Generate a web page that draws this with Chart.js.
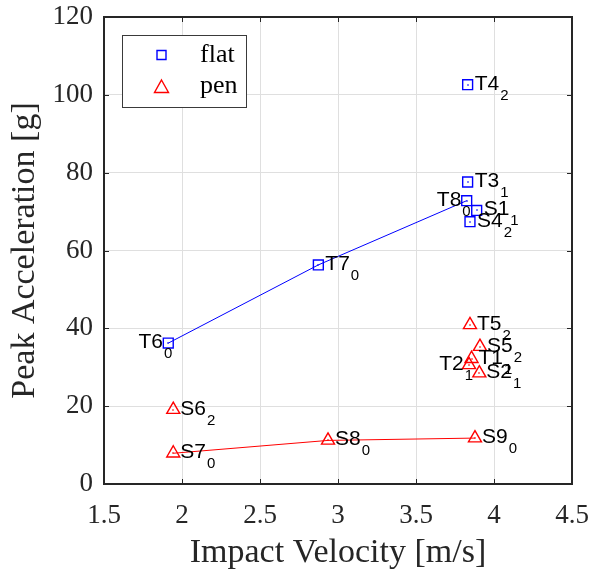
<!DOCTYPE html>
<html><head><meta charset="utf-8">
<script src="https://cdn.jsdelivr.net/npm/chart.js@4/dist/chart.umd.min.js"></script>
<style>html,body{margin:0;padding:0;background:#fff;}#wrap{width:593px;height:571px;}</style>
</head><body><div id="wrap"><canvas id="c" width="593" height="571"></canvas></div>
<script>
// ---- data ----
const flatNames = ['T6','T7','T8','T3','T4','S1','S4'];
const flatSubs  = ['0','0','0','1','2','1','2'];
const flatX     = [1.912, 2.874, 3.825, 3.831, 3.831, 3.889, 3.846];
const flatY     = [36.2, 56.3, 72.8, 77.6, 102.6, 70.3, 67.4];

const penNames = ['S7','S6','S8','S9','T5','S5','T1','T2','S2'];
const penSubs  = ['0','2','0','0','2','2','1','1','1'];
const penX     = [1.944, 1.944, 2.936, 3.878, 3.846, 3.910, 3.856, 3.840, 3.906];
const penY     = [7.9, 19.1, 11.2, 11.8, 40.9, 35.3, 32.2, 30.6, 28.5];

const flatLineNames = ['T6','T7','T8'];
const penLineNames  = ['S7','S8','S9'];
const leftLabelNames = ['T6','T8','T2'];

const xTicks = [1.5, 2, 2.5, 3, 3.5, 4, 4.5];
const yTicks = [0, 20, 40, 60, 80, 100, 120];
const xTickLabels = ['1.5','2','2.5','3','3.5','4','4.5'];
const yTickLabels = ['0','20','40','60','80','100','120'];
const legendLabels = ['flat','pen'];
const xTitle = 'Impact Velocity [m/s]';
const yTitle = 'Peak Acceleration [g]';

// ---- build ----
function pts(xs, ys){ return xs.map((x,i)=>({x:x, y:ys[i]})); }
function linePts(names, allNames, xs, ys){
  return names.map(n => { const i = allNames.indexOf(n); return {x:xs[i], y:ys[i]}; });
}
const BLUE = '#0000ff', RED = '#ff0000', AX = '#262626';
const SERIF = '"Liberation Serif", "Times New Roman", serif';
const SANS = '"Liberation Sans", Arial, sans-serif';
const MAINF = '21px ' + SANS, SUBF = '15px ' + SANS;

const labelsPlugin = {
  id: 'labels',
  afterDatasetsDraw(chart){
    const ctx = chart.ctx;
    const xs = chart.scales.x, ys = chart.scales.y;
    const groups = [[flatNames, flatSubs, flatX, flatY, BLUE],[penNames, penSubs, penX, penY, RED]];
    ctx.save();
    ctx.textBaseline = 'alphabetic';
    ctx.textAlign = 'left';
    groups.forEach(([names, subs, X, Y, col]) => {
      names.forEach((n, i) => {
        const px = xs.getPixelForValue(X[i]);
        const py = ys.getPixelForValue(Y[i]);
        // tiny centre dot of the marker
        ctx.fillStyle = col;
        ctx.fillRect(Math.round(px) - 1, Math.round(py) - 0.5, 2, 1);
        ctx.fillStyle = '#000';
        ctx.font = MAINF;
        const wm = ctx.measureText(n).width;
        ctx.font = SUBF;
        const wsub = ctx.measureText(subs[i]).width;
        let mx;
        if (leftLabelNames.includes(n)) {
          const R = px + 4;
          mx = R - wsub - 1 - wm;
        } else {
          mx = px + 7;
        }
        ctx.font = MAINF;
        ctx.fillText(n, mx, py + 5);
        ctx.font = SUBF;
        ctx.fillText(subs[i], mx + wm + 1, py + 15);
      });
    });
    ctx.restore();
  },
  afterDraw(chart){
    const ctx = chart.ctx;
    const a = chart.chartArea;
    const xs = chart.scales.x, ys = chart.scales.y;
    ctx.save();
    // inner ticks
    ctx.strokeStyle = AX; ctx.lineWidth = 1;
    ctx.beginPath();
    xTicks.forEach(v => {
      const p = Math.round(xs.getPixelForValue(v)) + 0.5;
      ctx.moveTo(p, a.bottom); ctx.lineTo(p, a.bottom - 5);
      ctx.moveTo(p, a.top); ctx.lineTo(p, a.top + 5);
    });
    yTicks.forEach(v => {
      const p = Math.round(ys.getPixelForValue(v)) + 0.5;
      ctx.moveTo(a.left, p); ctx.lineTo(a.left + 5, p);
      ctx.moveTo(a.right, p); ctx.lineTo(a.right - 5, p);
    });
    ctx.stroke();
    // box
    ctx.lineWidth = 2;
    ctx.strokeRect(a.left, a.top, a.right - a.left, a.bottom - a.top);
    // legend
    const lx = 122.5, ly = 35.5, lw = 124, lh = 72;
    ctx.fillStyle = '#fff';
    ctx.fillRect(lx, ly, lw, lh);
    ctx.lineWidth = 1; ctx.strokeStyle = '#3a3a3a';
    ctx.strokeRect(lx, ly, lw, lh);
    ctx.lineWidth = 1.4;
    ctx.strokeStyle = BLUE;
    ctx.beginPath(); ctx.rect(157, 50.5, 9, 9); ctx.stroke();
    ctx.strokeStyle = RED;
    ctx.beginPath();
    ctx.moveTo(161.5, 80); ctx.lineTo(168.5, 92.5); ctx.lineTo(154.5, 92.5); ctx.closePath(); ctx.stroke();
    ctx.fillStyle = '#000';
    ctx.font = '26px ' + SERIF;
    ctx.textAlign = 'left'; ctx.textBaseline = 'alphabetic';
    ctx.fillText(legendLabels[0], 200, 62);
    ctx.fillText(legendLabels[1], 200, 93);
    ctx.restore();
  }
};

new Chart(document.getElementById('c'), {
  data: {
    datasets: [
      { type:'scatter', label: legendLabels[0], data: pts(flatX, flatY), pointStyle:'rect', pointRadius:7, pointHoverRadius:7,
        borderColor: BLUE, backgroundColor:'rgba(0,0,0,0)', borderWidth:1.4 },
      { type:'scatter', label: legendLabels[1], data: pts(penX, penY), pointStyle:'triangle', pointRadius:7.5, pointHoverRadius:7.5,
        borderColor: RED, backgroundColor:'rgba(0,0,0,0)', borderWidth:1.4 },
      { type:'line', label:'flat fit', data: linePts(flatLineNames, flatNames, flatX, flatY), borderColor: BLUE, borderWidth:1,
        pointRadius:0, fill:false, tension:0 },
      { type:'line', label:'pen fit', data: linePts(penLineNames, penNames, penX, penY), borderColor: RED, borderWidth:1,
        pointRadius:0, fill:false, tension:0 }
    ]
  },
  options: {
    responsive:false, animation:false, devicePixelRatio:1,
    layout: { padding: { top:17, right:21, bottom:0, left:0 } },
    plugins: { legend:{display:false}, tooltip:{enabled:false} },
    scales: {
      x: {
        type:'linear', min:1.5, max:4.5,
        afterBuildTicks: s => { s.ticks = xTicks.map(v => ({value:v})); },
        afterFit: s => { s.height = 87; s.paddingLeft = 0; s.paddingRight = 0; },
        ticks: { callback: (v) => xTickLabels[xTicks.indexOf(v)], color: AX, padding: 16,
                 font: { family: SERIF, size: 27 }, maxRotation:0 },
        grid: { color:'#dfdfdf', lineWidth:1, drawTicks:false },
        border: { display:false },
        title: { display:true, text:xTitle, color: AX, font:{ family: SERIF, size: 34, lineHeight:1 }, padding:{top:0,bottom:1} }
      },
      y: {
        type:'linear', min:0, max:120,
        afterBuildTicks: s => { s.ticks = yTicks.map(v => ({value:v})); },
        afterFit: s => { s.width = 104; s.paddingTop = 0; s.paddingBottom = 0; },
        ticks: { callback: (v) => yTickLabels[yTicks.indexOf(v)], color: AX, padding: 11,
                 font: { family: SERIF, size: 27 } },
        grid: { color:'#dfdfdf', lineWidth:1, drawTicks:false },
        border: { display:false },
        title: { display:true, text:yTitle, color: AX, font:{ family: SERIF, size: 34, lineHeight:1 }, padding:{top:8,bottom:0} }
      }
    }
  },
  plugins: [labelsPlugin]
});
</script>
</body></html>
